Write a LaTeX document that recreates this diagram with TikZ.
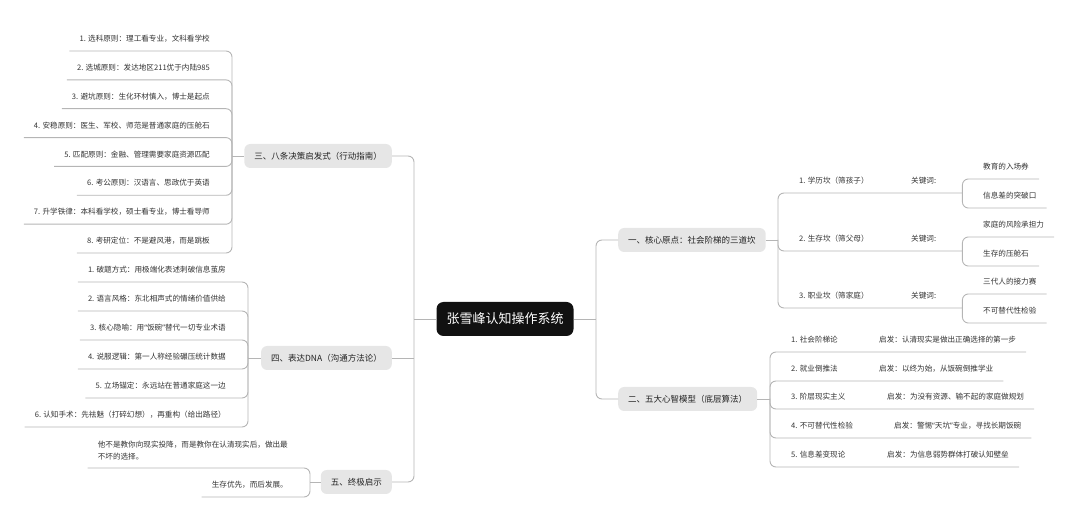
\documentclass[tikz,border=0pt]{standalone}
\usepackage{fontspec}
\setmainfont{Noto Sans CJK SC}
\newfontfamily\latinq{Noto Sans}
\newcommand{\myoq}{{\latinq “}}
\newcommand{\mycq}{{\latinq ”}}
\definecolor{linegray}{HTML}{B5B5B5}
\definecolor{textgray}{HTML}{333333}
\definecolor{textdark}{HTML}{222222}
\definecolor{lonegray}{HTML}{E6E6E6}
\definecolor{rootblack}{HTML}{111111}
\begin{document}
\begin{tikzpicture}[x=1pt,y=-1pt,
  conn/.style={draw=linegray, line width=0.9pt, rounded corners=6pt},
  leaf/.style={font=\fontsize{7.6}{12}\selectfont, text=textgray, inner xsep=10pt, inner ysep=0pt, minimum height=24pt},
  lone/.style={font=\fontsize{8.5}{10}\selectfont, text=textdark, fill=lonegray, rounded corners=6pt, inner xsep=10pt, inner ysep=0pt, minimum height=24pt},
  rootbox/.style={font=\fontsize{13}{15}\selectfont, text=white, fill=rootblack, rounded corners=7pt, inner xsep=10pt, inner ysep=0pt, minimum height=34pt}]
\useasboundingbox (0,0) rectangle (1080,526);

% root and level-1
\node[rootbox] (root) at (505,319) {张雪峰认知操作系统};
\node[lone, anchor=west] (n1) at (618,240) {一、核心原点：社会阶梯的三道坎};
\node[lone, anchor=west] (n2) at (618,399) {二、五大心智模型（底层算法）};
\node[lone, anchor=east] (n3) at (392,156) {三、八条决策启发式（行动指南）};
\node[lone, anchor=east] (n4) at (392,358) {四、表达DNA（沟通方法论）};
\node[lone, anchor=east] (n5) at (392,482) {五、终极启示};

\coordinate (Lbus) at (414,319);
\coordinate (Rbus) at (596,319);
\coordinate (b1) at (778,240);
\coordinate (b2) at (770,399);
\coordinate (b3) at (232,156);
\coordinate (b4) at (248,358);
\coordinate (b5) at (310,482);

\draw[conn] (root.west) -- (Lbus);
\draw[conn] (root.east) -- (Rbus);
\draw[conn] (Lbus) |- (n3.east);
\draw[conn] (Lbus) |- (n5.east);
\draw[conn] (n4.east -| Lbus) -- (n4.east);
\draw[conn] (Rbus) |- (n1.west);
\draw[conn] (Rbus) |- (n2.west);
\draw[conn] (n1.east) -- (b1);
\draw[conn] (n2.east) -- (b2);
\draw[conn] (n3.west) -- (b3);
\draw[conn] (n4.west) -- (b4);
\draw[conn] (n5.west) -- (b5);

% 三
\foreach \yy/\tx [count=\i] in {
  51/{1. 选科原则：理工看专业，文科看学校},
  79.9/{2. 选城原则：发达地区211优于内陆985},
  108.7/{3. 避坑原则：生化环材慎入，博士是起点},
  137.6/{4. 安稳原则：医生、军校、师范是普通家庭的压舱石},
  166.4/{5. 匹配原则：金融、管理需要家庭资源匹配},
  195.3/{6. 考公原则：汉语言、思政优于英语},
  224.2/{7. 升学铁律：本科看学校，硕士看专业，博士看导师},
  253/{8. 考研定位：不是避风港，而是跳板}} {
  \node[leaf, anchor=south east] (c3\i) at (220,\yy) {\tx};
  \draw[conn] (b3) |- (c3\i.south east) -- (c3\i.south west);
}

% 四
\foreach \yy/\tx [count=\i] in {
  282/{1. 破题方式：用极端化表述刺破信息茧房},
  311/{2. 语言风格：东北相声式的情绪价值供给},
  340/{3. 核心隐喻：用\myoq 饭碗\mycq 替代一切专业术语},
  369/{4. 说服逻辑：第一人称经验碾压统计数据},
  398/{5. 立场锚定：永远站在普通家庭这一边},
  427/{6. 认知手术：先祛魅（打碎幻想），再重构（给出路径）}} {
  \node[leaf, anchor=south east] (c4\i) at (236,\yy) {\tx};
  \draw[conn] (b4) |- (c4\i.south east) -- (c4\i.south west);
}

% 五
\node[leaf, anchor=south east, align=left, minimum height=0pt, inner ysep=8pt] (c51) at (298,468)
  {他不是教你向现实投降，而是教你在认清现实后，做出最\\不坏的选择。};
\node[leaf, anchor=south east] (c52) at (298,497) {生存优先，而后发展。};
\draw[conn] (b5) |- (c51.south east) -- (c51.south west);
\draw[conn] (b5) |- (c52.south east) -- (c52.south west);

% 一
\foreach \yy/\tx [count=\i] in {
  193/{1. 学历坎（筛孩子）},
  251/{2. 生存坎（筛父母）},
  308/{3. 职业坎（筛家庭）}} {
  \node[leaf, anchor=south west] (c1\i) at (789,\yy) {\makebox[153pt][l]{\rlap{\tx}\hspace{112pt}关键词:}};
  \draw[conn] (b1) |- (c1\i.south west) -- (c1\i.south east);
}
\foreach \pp/\yy/\tx [count=\i] in {
  c11/179/{教育的入场券}, c11/208/{信息差的突破口},
  c12/237/{家庭的风险承担力}, c12/266/{生存的压舱石},
  c13/294/{三代人的接力赛}, c13/323/{不可替代性检验}} {
  \node[leaf, anchor=south west] (g\i) at (973,\yy) {\tx};
  \draw[conn] (\pp.south east) |- (g\i.south west) -- (g\i.south east);
}

% 二
\foreach \yy/\lab/\off/\tx [count=\i] in {
  352/{1. 社会阶梯论}/88/{启发：认清现实是做出正确选择的第一步},
  381/{2. 就业倒推法}/88/{启发：以终为始，从饭碗倒推学业},
  409/{3. 阶层现实主义}/96/{启发：为没有资源、输不起的家庭做规划},
  438/{4. 不可替代性检验}/103/{启发：警惕\myoq 天坑\mycq 专业，寻找长期饭碗},
  467/{5. 信息差变现论}/96/{启发：为信息弱势群体打破认知壁垒}} {
  \node[leaf, anchor=south west] (c2\i) at (781,\yy) {\rlap{\lab}\hspace{\off pt}\tx};
  \draw[conn] (b2) |- (c2\i.south west) -- (c2\i.south east);
}
\end{tikzpicture}
\end{document}
